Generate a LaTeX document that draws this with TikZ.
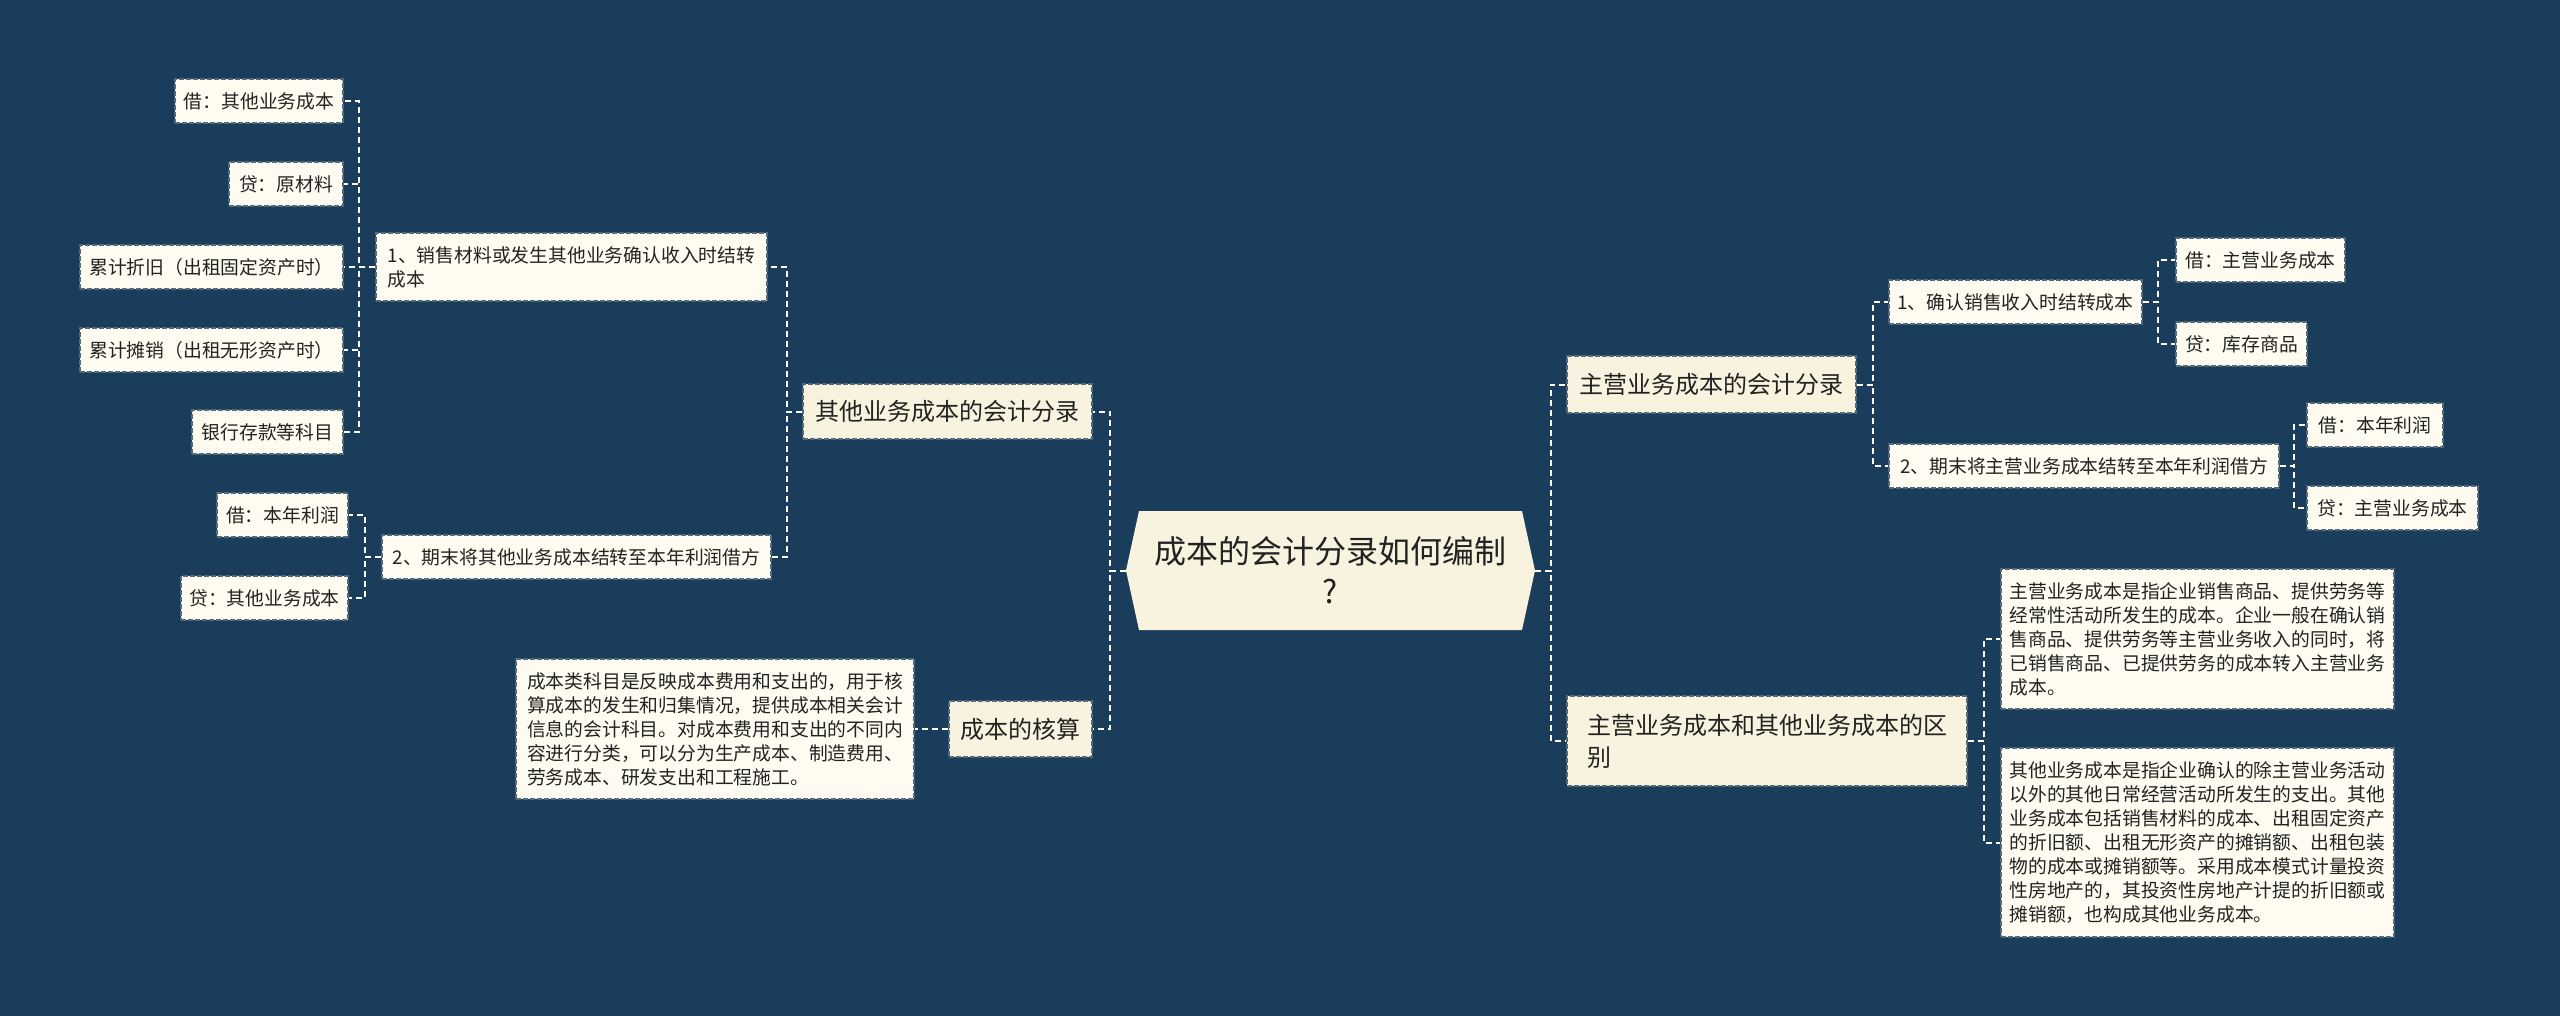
\documentclass[tikz,border=0pt]{standalone}
\usepackage{fontspec}
\setmainfont{Noto Sans CJK SC}
\definecolor{bgc}{HTML}{1B3D5C}
\definecolor{leaffill}{HTML}{FEFCF1}
\definecolor{mainfill}{HTML}{F8F3DE}
\definecolor{bordercol}{HTML}{56697A}
\definecolor{txt}{HTML}{222222}
\begin{document}
\begin{tikzpicture}[x=0.5pt,y=-0.5pt,
  leaf/.style={draw=bordercol, dash pattern=on 2.5pt off 1pt, line width=0.6pt,
    fill=leaffill, text=txt, font=\fontsize{9.4}{12}\selectfont, inner sep=0pt, align=center},
  leafl/.style={leaf, align=left},
  mainbox/.style={leaf, fill=mainfill, font=\fontsize{12}{16}\selectfont},
  conn/.style={draw=white, line width=1pt, dash pattern=on 3pt off 2pt}]
\fill[bgc] (0,0) rectangle (2560,1016);
\useasboundingbox (0,0) rectangle (2560,1016);

% center hexagon
\fill[mainfill] (1126,570.5) -- (1139,511) -- (1522,511) -- (1535,570.5) -- (1522,630) -- (1139,630) -- cycle;
\node[text=txt, font=\fontsize{16}{20}\selectfont, align=center, inner sep=0pt,
  minimum width=204.5pt, minimum height=59.5pt] (c) at (1330.5,570.5) {成本的会计分录如何编制\\?};

% left side
\node[mainbox, minimum width=144.5pt, minimum height=27.5pt] (m1) at (947.5,411.5) {其他业务成本的会计分录};
\node[mainbox, minimum width=71.5pt, minimum height=28pt] (m2) at (1020.5,729) {成本的核算};

\node[leafl, minimum width=195.5pt, minimum height=34pt] (b1) at (571.5,267) {1、销售材料或发生其他业务确认收入时结转\\成本};
\node[leaf, minimum width=194.5pt, minimum height=22pt] (b2) at (576.5,557) {2、期末将其他业务成本结转至本年利润借方};

\node[leaf, minimum width=84pt, minimum height=22pt] (a1) at (259,101) {借：其他业务成本};
\node[leaf, minimum width=57pt, minimum height=22pt] (a2) at (286,184) {贷：原材料};
\node[leaf, minimum width=131.5pt, minimum height=22pt] (a3) at (211.5,267) {累计折旧（出租固定资产时）};
\node[leaf, minimum width=131.5pt, minimum height=22pt] (a4) at (211.5,350) {累计摊销（出租无形资产时）};
\node[leaf, minimum width=75.5pt, minimum height=22pt] (a5) at (267.5,432) {银行存款等科目};
\node[leaf, minimum width=65.5pt, minimum height=22pt] (a6) at (282.5,515) {借：本年利润};
\node[leaf, minimum width=83.5pt, minimum height=22pt] (a7) at (264.5,598) {贷：其他业务成本};

\node[leafl, minimum width=199pt, minimum height=70pt] (d1) at (715,729) {成本类科目是反映成本费用和支出的，用于核\\算成本的发生和归集情况，提供成本相关会计\\信息的会计科目。对成本费用和支出的不同内\\容进行分类，可以分为生产成本、制造费用、\\劳务成本、研发支出和工程施工。};

% right side
\node[mainbox, minimum width=144.5pt, minimum height=28.5pt] (r1) at (1711.5,384.5) {主营业务成本的会计分录};
\node[mainbox, align=left, minimum width=200pt, minimum height=45pt] (r8) at (1767,741) {主营业务成本和其他业务成本的区\\别};

\node[leaf, minimum width=126.5pt, minimum height=22pt] (r2) at (2015.5,302) {1、确认销售收入时结转成本};
\node[leaf, minimum width=195pt, minimum height=22pt] (r5) at (2084,466) {2、期末将主营业务成本结转至本年利润借方};
\node[leaf, minimum width=84.5pt, minimum height=22pt] (r3) at (2260.5,260) {借：主营业务成本};
\node[leaf, minimum width=65.5pt, minimum height=22pt] (r4) at (2241.5,344) {贷：库存商品};
\node[leaf, minimum width=68pt, minimum height=22pt] (r6) at (2375,425) {借：本年利润};
\node[leaf, minimum width=85.5pt, minimum height=22pt] (r7) at (2392.5,508) {贷：主营业务成本};

\node[leafl, minimum width=196.5pt, minimum height=70pt] (r9) at (2197.5,639) {主营业务成本是指企业销售商品、提供劳务等\\经常性活动所发生的成本。企业一般在确认销\\售商品、提供劳务等主营业务收入的同时，将\\已销售商品、已提供劳务的成本转入主营业务\\成本。};
\node[leafl, minimum width=196.5pt, minimum height=94.5pt] (r10) at (2197.5,842.5) {其他业务成本是指企业确认的除主营业务活动\\以外的其他日常经营活动所发生的支出。其他\\业务成本包括销售材料的成本、出租固定资产\\的折旧额、出租无形资产的摊销额、出租包装\\物的成本或摊销额等。采用成本模式计量投资\\性房地产的，其投资性房地产计提的折旧额或\\摊销额，也构成其他业务成本。};

% junctions
\coordinate (jcl) at (1110,570.5);
\coordinate (jcr) at (1551,570.5);
\coordinate (jm1) at (787,411.5);
\coordinate (jb1) at (359,267);
\coordinate (jb2) at (365,557);
\coordinate (jr1) at (1873,384.5);
\coordinate (jr2) at (2158,302);
\coordinate (jr5) at (2294,466);
\coordinate (jr8) at (1984,741);

% connectors
\draw[conn] (c.west) -- (jcl) |- (m1.east);
\draw[conn] (c.west) -- (jcl) |- (m2.east);
\draw[conn] (m1.west) -- (jm1) |- (b1.east);
\draw[conn] (m1.west) -- (jm1) |- (b2.east);
\foreach \k in {a1,a2,a3,a4,a5}{\draw[conn] (b1.west) -- (jb1) |- (\k.east);}
\foreach \k in {a6,a7}{\draw[conn] (b2.west) -- (jb2) |- (\k.east);}
\draw[conn] (m2.west) -- (d1.east);

\draw[conn] (c.east) -- (jcr) |- (r1.west);
\draw[conn] (c.east) -- (jcr) |- (r8.west);
\draw[conn] (r1.east) -- (jr1) |- (r2.west);
\draw[conn] (r1.east) -- (jr1) |- (r5.west);
\draw[conn] (r2.east) -- (jr2) |- (r3.west);
\draw[conn] (r2.east) -- (jr2) |- (r4.west);
\draw[conn] (r5.east) -- (jr5) |- (r6.west);
\draw[conn] (r5.east) -- (jr5) |- (r7.west);
\draw[conn] (r8.east) -- (jr8) |- (r9.west);
\draw[conn] (r8.east) -- (jr8) |- (r10.west);
\end{tikzpicture}
\end{document}
